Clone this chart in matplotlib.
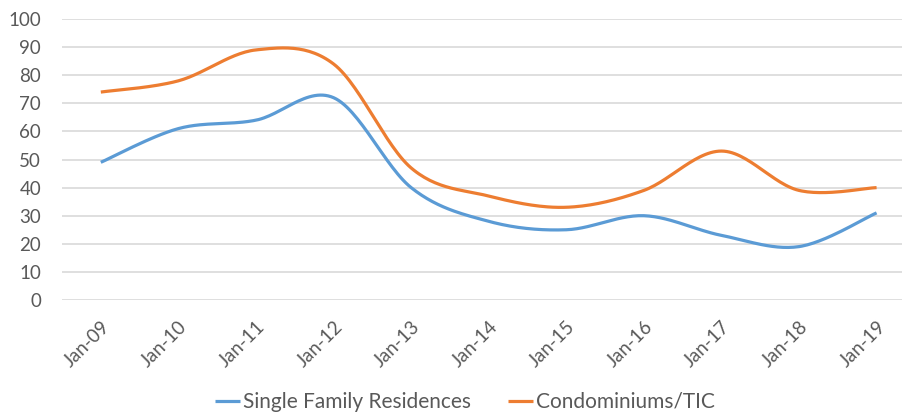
import numpy as np
import matplotlib
matplotlib.use("Agg")
import matplotlib.pyplot as plt

# data
months = ["Jan-09", "Jan-10", "Jan-11", "Jan-12", "Jan-13", "Jan-14",
          "Jan-15", "Jan-16", "Jan-17", "Jan-18", "Jan-19"]
single_family = [49, 61, 64, 72, 40, 28, 25, 30, 23, 19, 31]
condos = [74, 78, 89, 84, 47, 37, 33, 39, 53, 39, 40]

BLUE = "#5B9BD5"
ORANGE = "#ED7D31"
TEXT = "#595959"

plt.rcParams['font.family'] = ['Lato', 'DejaVu Sans']


# Excel-style smoothed line: cubic bezier through the points
def smooth(xs, ys, n=30):
    xs = np.asarray(xs, float)
    ys = np.asarray(ys, float)
    px = np.concatenate([[xs[0]], xs, [xs[-1]]])
    py = np.concatenate([[ys[0]], ys, [ys[-1]]])
    out_x, out_y = [], []
    t = np.linspace(0, 1, n)
    for i in range(1, len(px) - 2):
        p0 = np.array([px[i], py[i]])
        p3 = np.array([px[i + 1], py[i + 1]])
        c1 = p0 + (np.array([px[i + 1], py[i + 1]]) - np.array([px[i - 1], py[i - 1]])) / 6
        c2 = p3 - (np.array([px[i + 2], py[i + 2]]) - np.array([px[i], py[i]])) / 6
        pts = ((1 - t)[:, None] ** 3 * p0 + 3 * ((1 - t) ** 2 * t)[:, None] * c1
               + 3 * ((1 - t) * t ** 2)[:, None] * c2 + (t ** 3)[:, None] * p3)
        out_x.extend(pts[:, 0])
        out_y.extend(pts[:, 1])
    return out_x, out_y


fig = plt.figure(figsize=(9.03, 4.13), dpi=100)
ax = fig.add_axes([0.0687, 0.2736, 0.945, 0.6804])

x = np.arange(len(months))
sx, sy = smooth(x, single_family)
cx, cy = smooth(x, condos)
ax.plot(sx, sy, color=BLUE, lw=2.3, solid_capstyle="butt", label="Single Family Residences")
ax.plot(cx, cy, color=ORANGE, lw=2.3, solid_capstyle="butt", label="Condominiums/TIC")

ax.set_xlim(-0.5, len(months) - 0.5)
ax.set_ylim(0, 100)
ax.set_yticks(range(0, 101, 10))
ax.set_xticks(x)
ax.set_xticklabels(months, rotation=45, ha="right", rotation_mode="anchor")
ax.grid(axis="y", color="#D9D9D9", lw=1.2)
ax.set_axisbelow(True)
for s in ax.spines.values():
    s.set_visible(False)
ax.tick_params(length=0, colors=TEXT)
ax.tick_params(axis="y", labelsize=13.5, pad=15)
ax.tick_params(axis="x", labelsize=13.5, pad=13)

fig.legend(loc="center", bbox_to_anchor=(465 / 903, 1 - 402 / 413), ncol=2, frameon=False,
           fontsize=15, handlelength=1.2, handletextpad=0.15, columnspacing=1.8,
           labelcolor=TEXT)

fig.savefig("out.png", dpi=100)
